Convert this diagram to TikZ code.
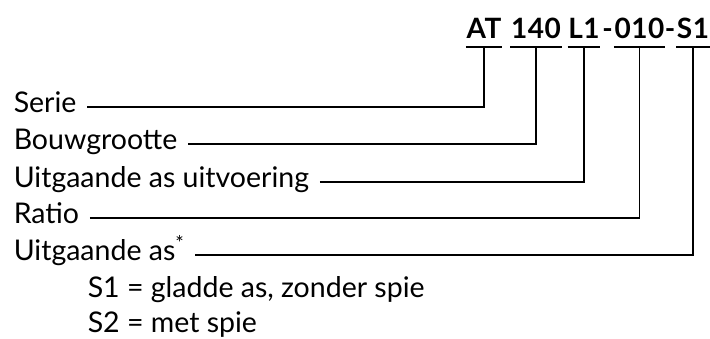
\documentclass[tikz,border=0pt]{standalone}
\usepackage{fontspec}
\setmainfont{Lato}
\newfontfamily\codefont[LetterSpace=2]{Lato}

\begin{document}
\begin{tikzpicture}[x=1pt,y=-1pt,line width=1.5pt,
    lbl/.style={anchor=base west,inner sep=0pt,font=\fontsize{28.5}{28.5}\selectfont},
    codepart/.style={anchor=base,inner xsep=0pt,inner ysep=8pt,text depth=0pt,font=\fontsize{28}{28}\codefont\bfseries}]
        \useasboundingbox (0,0) rectangle (710,338);

        % type code
        \node[codepart] (codeAT) at (484,38) {AT};
        \node[codepart] (code140) at (536,38) {140};
        \node[codepart] (codeL1) at (584,38) {L1};
        \node[codepart] (dashL) at (607.5,38) {-};
        \node[codepart] (code010) at (639.5,38) {010};
        \node[codepart] (dashR) at (670,38) {-};
        \node[codepart] (codeS1) at (693,38) {S1};
        \foreach \grp in {codeAT,code140,codeL1,code010,codeS1}
            \draw (\grp.south west) -- (\grp.south east);

        % legend
        \node[lbl] (serie) at (13,112) {Serie};
        \node[lbl] (bouw) at (13,149) {Bouwgrootte};
        \node[lbl] (uitv) at (13,187) {Uitgaande as uitvoering};
        \node[lbl] (ratio) at (13,223) {Ratio};
        \node[lbl] (uitas) at (13,260) {Uitgaande as\textsuperscript{*}};
        \node[lbl] (s1) at (87,297) {S1 = gladde as, zonder spie};
        \node[lbl] (s2) at (87,332) {S2 = met spie};

        \foreach \lab/\grp in {serie/codeAT,bouw/code140,uitv/codeL1,ratio/code010,uitas/codeS1}
            \draw ([xshift=10pt,yshift=5pt]\lab.base east) -| (\grp.south);
\end{tikzpicture}
\end{document}
